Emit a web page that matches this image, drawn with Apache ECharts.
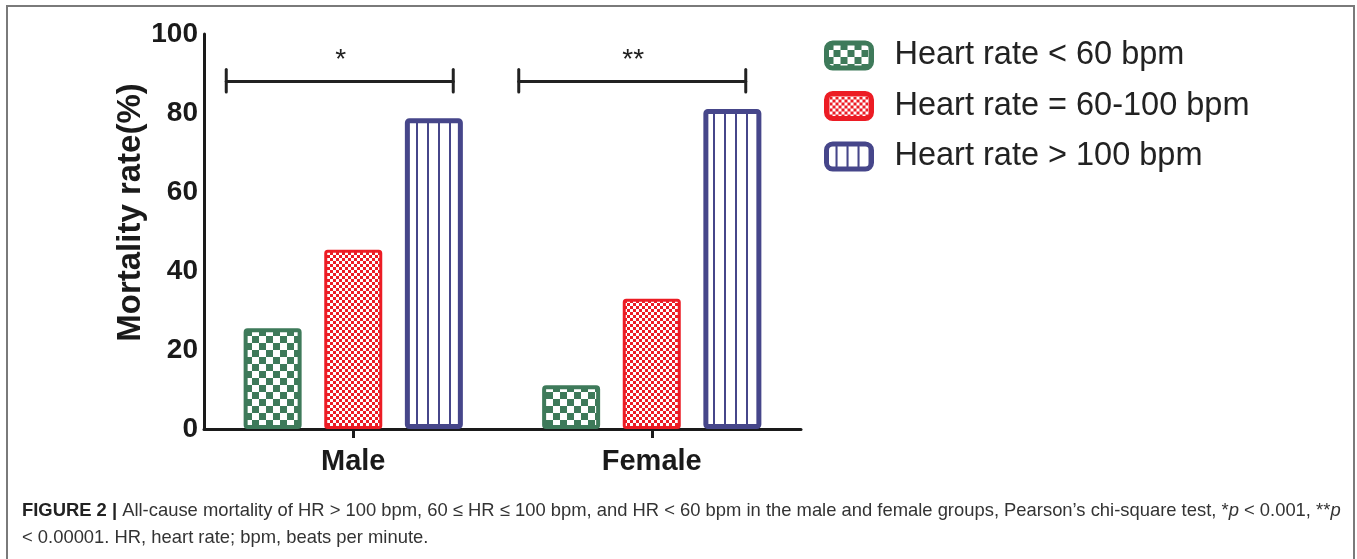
<!DOCTYPE html>
<html><head><meta charset="utf-8">
<script src="https://cdn.jsdelivr.net/npm/echarts@6/dist/echarts.min.js"></script>
<style>html,body{margin:0;padding:0;background:#fff}#c{width:1357px;height:559px}</style>
</head><body><div id="c"></div>
<script>
const categories = ['Male', 'Female'];
const seriesNames = ['Heart rate < 60 bpm', 'Heart rate = 60-100 bpm', 'Heart rate > 100 bpm'];
const hrLow = [25.5, 11.1];
const hrNormal = [45.4, 33.0];
const hrHigh = [78.7, 81.0];
const significance = ['*', '**'];
const bracketLevel = 88;

function makeCanvas(w, h, draw) {
  const c = document.createElement('canvas');
  c.width = w; c.height = h;
  const ctx = c.getContext('2d');
  ctx.fillStyle = '#fff'; ctx.fillRect(0, 0, w, h);
  draw(ctx);
  return c;
}
const GREEN = '#3e7a5a', RED = '#ec1c24', BLUE = '#46468a';
const greenPat = makeCanvas(14, 14, ctx => { ctx.fillStyle = GREEN; ctx.fillRect(0,0,7,7); ctx.fillRect(7,7,7,7); });
const redPat = makeCanvas(6, 6, ctx => { ctx.fillStyle = RED; ctx.fillRect(0,0,3,3); ctx.fillRect(3,3,3,3); });
const bluePat = makeCanvas(11, 4, ctx => { ctx.fillStyle = BLUE; ctx.fillRect(9,0,2,4); });

const chart = echarts.init(document.getElementById('c'));
const AX = '#1a1a1a';
const FF = 'Liberation Sans, Arial';
function barSeries(name, data, pat, col, bw) {
  return {
    name, type: 'bar', data, barWidth: 58, barGap: '39%',
    itemStyle: { color: { image: pat, repeat: 'repeat' }, borderColor: col, borderWidth: bw, borderRadius: 2 },
    emphasis: { disabled: true }
  };
}
chart.setOption({
  animation: false,
  grid: { left: 204, right: 556, top: 34, bottom: 130 },
  legend: {
    orient: 'vertical', left: 819, top: 34, itemWidth: 45, itemHeight: 25, itemGap: 17.5,
    icon: 'roundRect',
    itemStyle: { borderWidth: 5 },
    textStyle: { fontFamily: FF, fontSize: 32.5, color: '#222', padding: [0,0,0,18], lineHeight: 28 },
    data: seriesNames
  },
  xAxis: {
    type: 'category', data: categories,
    axisLine: { lineStyle: { color: AX, width: 3 } },
    axisTick: { show: true, alignWithLabel: true, length: 9, lineStyle: { color: AX, width: 3 } },
    axisLabel: { fontFamily: FF, fontWeight: 'bold', fontSize: 29, color: AX, margin: 18 }
  },
  yAxis: {
    type: 'value', min: 0, max: 100, interval: 20,
    name: 'Mortality rate(%)', nameLocation: 'middle', nameGap: 50,
    nameTextStyle: { fontFamily: FF, fontWeight: 'bold', fontSize: 33, color: AX, padding: [0, 0, 0, 38] },
    axisLine: { show: true, lineStyle: { color: AX, width: 3 } },
    axisTick: { show: false },
    splitLine: { show: false },
    axisLabel: { fontFamily: FF, fontWeight: 'bold', fontSize: 28, color: AX, margin: 6 }
  },
  series: [
    barSeries(seriesNames[0], hrLow, greenPat, GREEN, 4),
    barSeries(seriesNames[1], hrNormal, redPat, RED, 3),
    barSeries(seriesNames[2], hrHigh, bluePat, BLUE, 5)
  ]
});

// significance brackets & caption
const bracketLeft = [-127, -133];
const bracketRight = [100, 94];
const graphics = [];
const yB = chart.convertToPixel({ yAxisIndex: 0 }, bracketLevel);
const yTop = chart.convertToPixel({ yAxisIndex: 0 }, bracketLevel + 3);
const yBot = chart.convertToPixel({ yAxisIndex: 0 }, bracketLevel - 2.7);
categories.forEach((cat, i) => {
  const cx = chart.convertToPixel({ xAxisIndex: 0 }, cat);
  const x1 = cx + bracketLeft[i], x2 = cx + bracketRight[i];
  const ls = { stroke: '#222', lineWidth: 3, lineCap: 'round' };
  graphics.push({ type: 'line', shape: { x1, y1: yB, x2, y2: yB }, style: ls });
  graphics.push({ type: 'line', shape: { x1, y1: yTop, x2: x1, y2: yBot }, style: ls });
  graphics.push({ type: 'line', shape: { x1: x2, y1: yTop, x2, y2: yBot }, style: ls });
  graphics.push({ type: 'text', x: (x1 + x2) / 2 + 1, y: yB - 21, style: { text: significance[i], fontFamily: FF, fontSize: 28, fill: '#222', align: 'center', verticalAlign: 'middle' } });
});
graphics.push({ type: 'rect', shape: { x: 7, y: 6, width: 1347, height: 600 }, style: { fill: 'none', stroke: '#7a7a7a', lineWidth: 2 }, silent: true });
graphics.push({
  type: 'text', x: 22, y: 511,
  style: {
    text: '{b|FIGURE 2 |} All-cause mortality of HR > 100 bpm, 60 ≤ HR ≤ 100 bpm, and HR < 60 bpm in the male and female groups, Pearson’s chi-square test, *{i|p} < 0.001, **{i|p}',
    fontFamily: FF, fontSize: 18.4, fill: '#333', verticalAlign: 'middle',
    rich: { b: { fontWeight: 'bold', fontSize: 18.4, fill: '#222', fontFamily: FF }, i: { fontStyle: 'italic', fontSize: 18.4, fill: '#333', fontFamily: FF } }
  }
});
graphics.push({
  type: 'text', x: 22, y: 538,
  style: { text: '< 0.00001. HR, heart rate; bpm, beats per minute.', fontFamily: FF, fontSize: 18.4, fill: '#333', verticalAlign: 'middle' }
});
chart.setOption({ graphic: graphics });
</script></body></html>
